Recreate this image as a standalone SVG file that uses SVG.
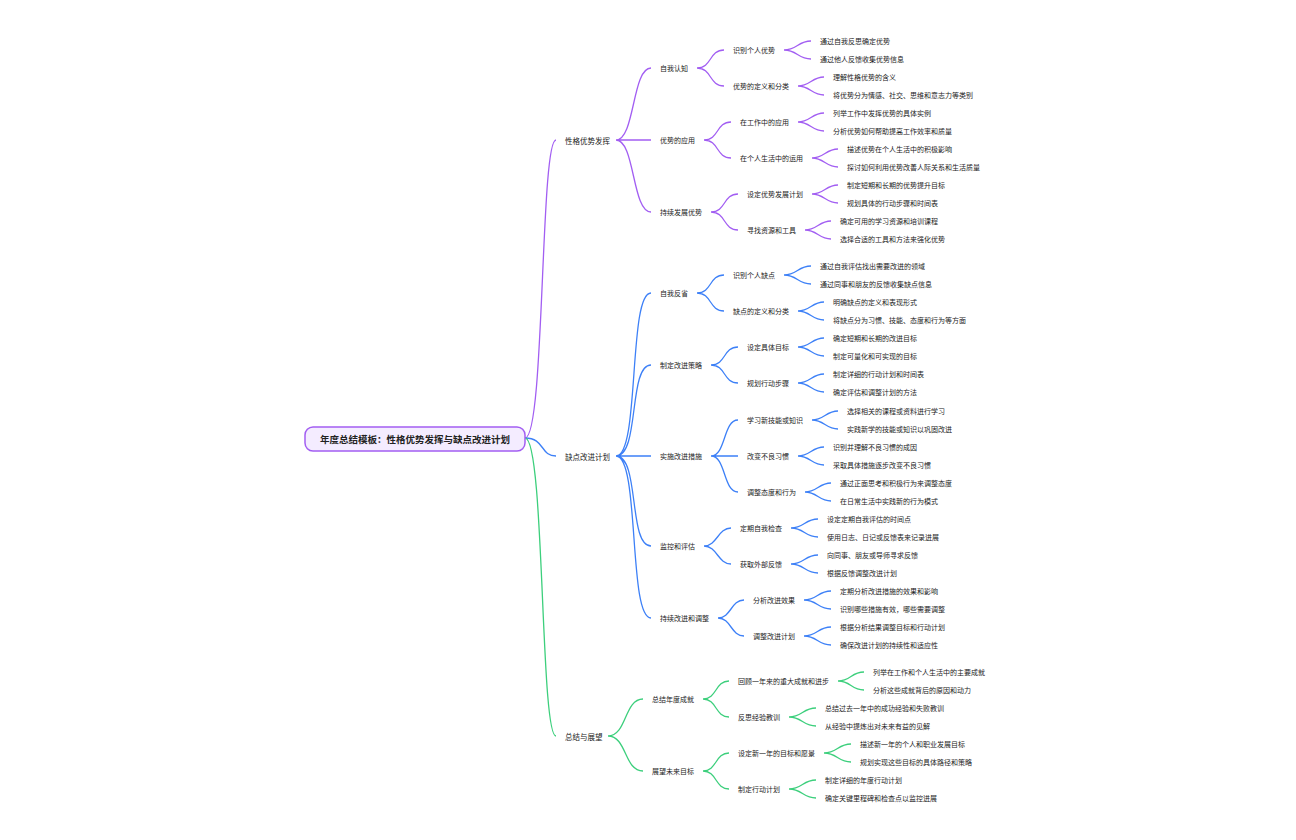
<svg xmlns="http://www.w3.org/2000/svg" width="1296" height="840" viewBox="0 0 1296 840">
<style>
text{font-family:"Noto Sans CJK SC","Noto Sans",sans-serif;font-size:7px;fill:#222;dominant-baseline:central}
.l1{font-size:7.5px}
.root{font-size:9.5px;font-weight:bold}
path{fill:none;stroke-width:1.3}
.p{stroke:#a25ef2}.b{stroke:#3d80f7}.g{stroke:#3ccf7c}
</style>
<rect width="1296" height="840" fill="#fff"/>
<g id="connectors">
<path class="p" d="M525 438 C545 438,540 140,556 140"/>
<path class="b" d="M525 438 C545 438,540 456,556 456"/>
<path class="g" d="M525 438 C545 438,540 736,556 736"/>
<path class="p" d="M616 140 C635 140,632 68,651 68 M616 140 L651 140 M616 140 C635 140,632 212,651 212"/>
<path class="p" d="M697 68 C712 68,709 50,724 50 M697 68 C712 68,709 86,724 86"/>
<path class="p" d="M704 140 C719 140,716 122,731 122 M704 140 C719 140,716 158,731 158"/>
<path class="p" d="M711 212 C726 212,723 194,738 194 M711 212 C726 212,723 230,738 230"/>
<path class="p" d="M784 50 C797 50,798 41,811 41 M784 50 C797 50,798 59,811 59"/>
<path class="p" d="M798 86 C810 86,812 77,824 77 M798 86 C810 86,812 95,824 95"/>
<path class="p" d="M798 122 C810 122,812 113,824 113 M798 122 C810 122,812 131,824 131"/>
<path class="p" d="M812 158 C824 158,826 149,838 149 M812 158 C824 158,826 167,838 167"/>
<path class="p" d="M812 194 C824 194,826 185,838 185 M812 194 C824 194,826 203,838 203"/>
<path class="p" d="M805 230 C817 230,819 221,831 221 M805 230 C817 230,819 239,831 239"/>
<path class="b" d="M616 456 C640 456,628 293,651 293 M616 456 C640 456,628 365,651 365 M616 456 L651 456 M616 456 C640 456,628 546,651 546 M616 456 C640 456,628 618,651 618"/>
<path class="b" d="M697 293 C712 293,709 275,724 275 M697 293 C712 293,709 311,724 311"/>
<path class="b" d="M711 365 C726 365,723 347,738 347 M711 365 C726 365,723 383,738 383"/>
<path class="b" d="M711 456 C726 456,723 420,738 420 M711 456 L738 456 M711 456 C726 456,723 492,738 492"/>
<path class="b" d="M704 546 C717 546,718 528,731 528 M704 546 C717 546,718 564,731 564"/>
<path class="b" d="M718 618 C731 618,731 600,744 600 M718 618 C731 618,731 636,744 636"/>
<path class="b" d="M784 275 C797 275,798 266,811 266 M784 275 C797 275,798 284,811 284"/>
<path class="b" d="M798 311 C810 311,812 302,824 302 M798 311 C810 311,812 320,824 320"/>
<path class="b" d="M798 347 C810 347,812 338,824 338 M798 347 C810 347,812 356,824 356"/>
<path class="b" d="M798 383 C810 383,812 374,824 374 M798 383 C810 383,812 392,824 392"/>
<path class="b" d="M812 420 C824 420,826 411,838 411 M812 420 C824 420,826 429,838 429"/>
<path class="b" d="M798 456 C810 456,812 447,824 447 M798 456 C810 456,812 465,824 465"/>
<path class="b" d="M805 492 C817 492,819 483,831 483 M805 492 C817 492,819 501,831 501"/>
<path class="b" d="M791 528 C804 528,805 519,818 519 M791 528 C804 528,805 537,818 537"/>
<path class="b" d="M791 564 C804 564,805 555,818 555 M791 564 C804 564,805 573,818 573"/>
<path class="b" d="M804 600 C817 600,818 591,831 591 M804 600 C817 600,818 609,831 609"/>
<path class="b" d="M804 636 C817 636,818 627,831 627 M804 636 C817 636,818 645,831 645"/>
<path class="g" d="M608 736 C627 736,624 699,643 699 M608 736 C627 736,624 771,643 771"/>
<path class="g" d="M703 699 C717 699,715 681,729 681 M703 699 C717 699,715 717,729 717"/>
<path class="g" d="M703 771 C717 771,715 753,729 753 M703 771 C717 771,715 789,729 789"/>
<path class="g" d="M838 681 C851 681,851 672,864 672 M838 681 C851 681,851 690,864 690"/>
<path class="g" d="M789 717 C802 717,803 708,816 708 M789 717 C802 717,803 726,816 726"/>
<path class="g" d="M824 753 C837 753,838 744,851 744 M824 753 C837 753,838 762,851 762"/>
<path class="g" d="M789 789 C802 789,803 780,816 780 M789 789 C802 789,803 798,816 798"/>
</g>
<g id="root"><rect x="305" y="427" width="220" height="24" rx="8" fill="#f4ecff" stroke="#a25ef2" stroke-width="1.5"/><text class="root" x="415" y="439" text-anchor="middle">年度总结模板：性格优势发挥与缺点改进计划</text></g>
<g id="n1"><text class="l1" x="565" y="140">性格优势发挥</text></g>
<g id="n2"><text class="l1" x="565" y="456">缺点改进计划</text></g>
<g id="n3"><text class="l1" x="565" y="736">总结与展望</text></g>
<g id="n1a"><text x="660" y="68">自我认知</text></g>
<g id="n1b"><text x="660" y="140">优势的应用</text></g>
<g id="n1c"><text x="660" y="212">持续发展优势</text></g>
<g id="n2a"><text x="660" y="293">自我反省</text></g>
<g id="n2b"><text x="660" y="365">制定改进策略</text></g>
<g id="n2c"><text x="660" y="456">实施改进措施</text></g>
<g id="n2d"><text x="660" y="546">监控和评估</text></g>
<g id="n2e"><text x="660" y="618">持续改进和调整</text></g>
<g id="n3a"><text x="652" y="699">总结年度成就</text></g>
<g id="n3b"><text x="652" y="771">展望未来目标</text></g>
<g id="l3">
<g id="s1"><text x="733" y="50">识别个人优势</text></g>
<g id="s2"><text x="733" y="86">优势的定义和分类</text></g>
<g id="s3"><text x="740" y="122">在工作中的应用</text></g>
<g id="s4"><text x="740" y="158">在个人生活中的运用</text></g>
<g id="s5"><text x="747" y="194">设定优势发展计划</text></g>
<g id="s6"><text x="747" y="230">寻找资源和工具</text></g>
<g id="s7"><text x="733" y="275">识别个人缺点</text></g>
<g id="s8"><text x="733" y="311">缺点的定义和分类</text></g>
<g id="s9"><text x="747" y="347">设定具体目标</text></g>
<g id="s10"><text x="747" y="383">规划行动步骤</text></g>
<g id="s11"><text x="747" y="420">学习新技能或知识</text></g>
<g id="s12"><text x="747" y="456">改变不良习惯</text></g>
<g id="s13"><text x="747" y="492">调整态度和行为</text></g>
<g id="s14"><text x="740" y="528">定期自我检查</text></g>
<g id="s15"><text x="740" y="564">获取外部反馈</text></g>
<g id="s16"><text x="753" y="600">分析改进效果</text></g>
<g id="s17"><text x="753" y="636">调整改进计划</text></g>
<g id="s18"><text x="738" y="681">回顾一年来的重大成就和进步</text></g>
<g id="s19"><text x="738" y="717">反思经验教训</text></g>
<g id="s20"><text x="738" y="753">设定新一年的目标和愿景</text></g>
<g id="s21"><text x="738" y="789">制定行动计划</text></g>
</g>
<g id="l4">
<g id="t1"><text x="820" y="41">通过自我反思确定优势</text></g>
<g id="t2"><text x="820" y="59">通过他人反馈收集优势信息</text></g>
<g id="t3"><text x="833" y="77">理解性格优势的含义</text></g>
<g id="t4"><text x="833" y="95">将优势分为情感、社交、思维和意志力等类别</text></g>
<g id="t5"><text x="833" y="113">列举工作中发挥优势的具体实例</text></g>
<g id="t6"><text x="833" y="131">分析优势如何帮助提高工作效率和质量</text></g>
<g id="t7"><text x="847" y="149">描述优势在个人生活中的积极影响</text></g>
<g id="t8"><text x="847" y="167">探讨如何利用优势改善人际关系和生活质量</text></g>
<g id="t9"><text x="847" y="185">制定短期和长期的优势提升目标</text></g>
<g id="t10"><text x="847" y="203">规划具体的行动步骤和时间表</text></g>
<g id="t11"><text x="840" y="221">确定可用的学习资源和培训课程</text></g>
<g id="t12"><text x="840" y="239">选择合适的工具和方法来强化优势</text></g>
<g id="t13"><text x="820" y="266">通过自我评估找出需要改进的领域</text></g>
<g id="t14"><text x="820" y="284">通过同事和朋友的反馈收集缺点信息</text></g>
<g id="t15"><text x="833" y="302">明确缺点的定义和表现形式</text></g>
<g id="t16"><text x="833" y="320">将缺点分为习惯、技能、态度和行为等方面</text></g>
<g id="t17"><text x="833" y="338">确定短期和长期的改进目标</text></g>
<g id="t18"><text x="833" y="356">制定可量化和可实现的目标</text></g>
<g id="t19"><text x="833" y="374">制定详细的行动计划和时间表</text></g>
<g id="t20"><text x="833" y="392">确定评估和调整计划的方法</text></g>
<g id="t21"><text x="847" y="411">选择相关的课程或资料进行学习</text></g>
<g id="t22"><text x="847" y="429">实践新学的技能或知识以巩固改进</text></g>
<g id="t23"><text x="833" y="447">识别并理解不良习惯的成因</text></g>
<g id="t24"><text x="833" y="465">采取具体措施逐步改变不良习惯</text></g>
<g id="t25"><text x="840" y="483">通过正面思考和积极行为来调整态度</text></g>
<g id="t26"><text x="840" y="501">在日常生活中实践新的行为模式</text></g>
<g id="t27"><text x="827" y="519">设定定期自我评估的时间点</text></g>
<g id="t28"><text x="827" y="537">使用日志、日记或反馈表来记录进展</text></g>
<g id="t29"><text x="827" y="555">向同事、朋友或导师寻求反馈</text></g>
<g id="t30"><text x="827" y="573">根据反馈调整改进计划</text></g>
<g id="t31"><text x="840" y="591">定期分析改进措施的效果和影响</text></g>
<g id="t32"><text x="840" y="609">识别哪些措施有效，哪些需要调整</text></g>
<g id="t33"><text x="840" y="627">根据分析结果调整目标和行动计划</text></g>
<g id="t34"><text x="840" y="645">确保改进计划的持续性和适应性</text></g>
<g id="t35"><text x="873" y="672">列举在工作和个人生活中的主要成就</text></g>
<g id="t36"><text x="873" y="690">分析这些成就背后的原因和动力</text></g>
<g id="t37"><text x="825" y="708">总结过去一年中的成功经验和失败教训</text></g>
<g id="t38"><text x="825" y="726">从经验中提炼出对未来有益的见解</text></g>
<g id="t39"><text x="860" y="744">描述新一年的个人和职业发展目标</text></g>
<g id="t40"><text x="860" y="762">规划实现这些目标的具体路径和策略</text></g>
<g id="t41"><text x="825" y="780">制定详细的年度行动计划</text></g>
<g id="t42"><text x="825" y="798">确定关键里程碑和检查点以监控进展</text></g>
</g>
</svg>
